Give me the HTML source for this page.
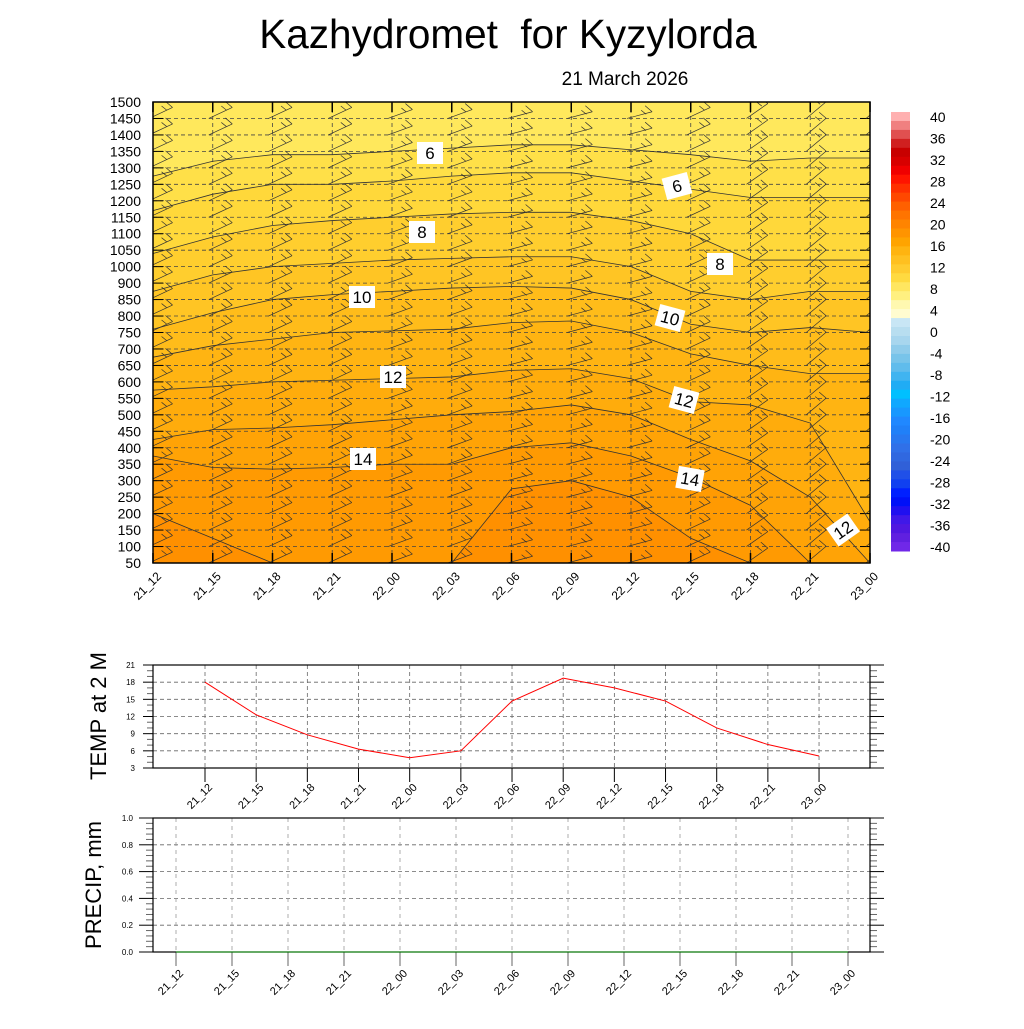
<!DOCTYPE html>
<html><head><meta charset="utf-8"><style>
body{margin:0;background:#fff;}
svg text{font-family:"Liberation Sans",sans-serif;}
</style></head><body>
<svg id="s" width="1024" height="1024" xmlns="http://www.w3.org/2000/svg">
<defs><clipPath id="pc"><rect x="153" y="102" width="717" height="461"/></clipPath></defs>
<text x="508" y="48" font-size="40.5" text-anchor="middle">Kazhydromet&#160;&#160;for Kyzylorda</text>
<text x="625" y="85" font-size="19" text-anchor="middle">21 March 2026</text>
<g id="main"></g><g id="cbar"></g><g id="temp"></g><g id="precip"></g>
</svg>
<script>
const times=["21_12","21_15","21_18","21_21","22_00","22_03","22_06","22_09","22_12","22_15","22_18","22_21","23_00"];
const levels=["1500","1450","1400","1350","1300","1250","1200","1150","1100","1050","1000","900","850","800","750","700","650","600","550","500","450","400","350","300","250","200","150","100","50"];
const contourValues=[6,7,8,9,10,11,12,13,14,15];
const c6=[4.5,3.6,3.2,3.2,3.0,2.8,2.6,2.6,2.9,3.2,3.6,3.4,3.4];
const c7=[6.6,5.6,5.0,5.0,4.8,4.5,4.3,4.3,4.8,5.3,5.8,5.8,5.8];
const c8=[9.2,8.2,7.5,7.2,7.0,6.8,6.7,6.7,7.2,8.0,9.6,9.6,9.6];
const c9=[11.5,10.5,10.0,9.8,9.6,9.5,9.4,9.4,10.0,11.5,12.0,11.5,11.5];
const c10=[13.8,12.8,12.0,11.7,11.5,11.3,11.2,11.3,12.0,13.5,14.0,13.7,14.0];
const c11=[15.5,14.8,14.4,14.0,13.9,13.8,13.4,13.3,14.0,15.3,16.0,16.5,16.5];
const c12=[17.5,17.3,17.0,16.9,16.8,16.7,16.3,16.2,16.8,18.2,18.4,19.5,25.5];
const c13=[20.5,19.9,19.8,19.6,19.3,19.0,18.8,18.4,19.0,20.5,21.8,24,28];
const c14=[21.5,22.2,22.3,22.2,22.0,22.0,21.0,20.7,21.5,22.8,24.5,28,28];
const c15=[25,26.5,28,28,28,28,23.5,23.0,24.0,26.5,28,28,28];
const contours=[c6,c7,c8,c9,c10,c11,c12,c13,c14,c15];
const bandColors=["#ffe85c","#ffe048","#ffd83a","#ffce2e","#ffc524","#ffbc1a","#ffb412","#ffac0c","#ffa306","#ff9a02","#ff9000"];
const windDir=[25,25,25,25,20,20,15,15,15,25,35,40,40];
const temps=[18,12.3,8.8,6.3,4.8,6.0,14.7,18.7,17.0,14.7,10.0,7.1,5.1];
const tempTicks=[3,6,9,12,15,18,21];
const precip=[0,0,0,0,0,0,0,0,0,0,0,0,0];
const precipTicks=["0.0","0.2","0.4","0.6","0.8","1.0"];
const cbarLabels=[40,36,32,28,24,20,16,12,8,4,0,-4,-8,-12,-16,-20,-24,-28,-32,-36,-40];
const cbarColors=["#ffb0b0","#f08080","#e05050","#d02020","#c80000","#d80000","#f00000","#ff1400","#ff3000","#ff4800","#ff6000","#ff7400","#ff8400","#ff9400","#ffa400","#ffb410","#ffc020","#ffcc30","#ffda40","#ffe660","#fff080","#fff8b0","#fffcd0",
"#c8e6f5","#b8def0","#a8d6ee","#90cceb","#78c4ea","#60bcec","#40b4f0","#20acf4","#00c0ff","#10a8ff","#1898ff","#2088ff","#2080f8","#2878f0","#3070e8","#3068e0","#3060d8","#2050e8","#1040f0","#0020ff","#0010f8","#2010f0","#4018e8","#5018e0","#6020e0","#7028e8"];
const NS="http://www.w3.org/2000/svg";
function el(p,t,a){const e=document.createElementNS(NS,t);for(const k in a)e.setAttribute(k,a[k]);p.appendChild(e);return e;}
const X0=153,X1=870,Y0=102,Y1=563;
const xm=i=>X0+i*(X1-X0)/(times.length-1);
const ym=v=>Y0+v*(Y1-Y0)/(levels.length-1);
const main=document.getElementById('main');
let bg=el(main,'rect',{x:X0,y:Y0,width:X1-X0,height:Y1-Y0,fill:bandColors[0]});


contours.forEach((c,k)=>{
  let d='M'+X0+','+Y1+' '+c.map((v,i)=>'L'+xm(i)+','+ym(v)).join(' ')+' L'+X1+','+Y1+'Z';
  let p=el(main,'path',{d:d,fill:bandColors[k+1]});
  
  
});
levels.forEach((l,j)=>{
  let g=el(main,'line',{x1:X0,x2:X1,y1:ym(j),y2:ym(j),stroke:'#444','stroke-width':0.8,'stroke-dasharray':'4,3'});
  
  
  el(main,'line',{x1:X0,x2:X0+10,y1:ym(j),y2:ym(j),stroke:'#000','stroke-width':1});
  el(main,'line',{x1:X1-10,x2:X1,y1:ym(j),y2:ym(j),stroke:'#000','stroke-width':1});
  let t=el(main,'text',{x:X0-12,y:ym(j)+5,'font-size':14,'text-anchor':'end'});t.textContent=l;
  
  
});
times.forEach((tm,i)=>{
  let g=el(main,'line',{x1:xm(i),x2:xm(i),y1:Y0,y2:Y1,stroke:'#444','stroke-width':0.8,'stroke-dasharray':'4,3'});
  
  
  el(main,'line',{x1:xm(i),x2:xm(i),y1:Y0,y2:Y0+10,stroke:'#000','stroke-width':1.5});
  el(main,'line',{x1:xm(i),x2:xm(i),y1:Y1-10,y2:Y1,stroke:'#000','stroke-width':1.5});
  let t=el(main,'text',{x:0,y:0,'font-size':12,'text-anchor':'end',transform:`translate(${xm(i)+9},${Y1+14}) rotate(-45)`});t.textContent=tm;
  
  
});
contours.forEach((c,k)=>{
  let p=el(main,'polyline',{points:c.map((v,i)=>xm(i)+','+ym(v)).join(' '),fill:'none',stroke:'#333','stroke-width':0.8});
  
  
});
const barbs=el(main,'g',{'clip-path':'url(#pc)'});
times.forEach((tm,i)=>{
  levels.forEach((l,j)=>{
    const a=windDir[i]*Math.PI/180,L=26;
    const x=xm(i)-4,y=ym(j);
    const x2=x+L*Math.cos(a),y2=y-L*Math.sin(a);
    let b=el(barbs,'path',{d:`M${x},${y} L${x2},${y2} M${x2},${y2} l-7,-6 M${x2-6},${y2+2.5} l-5,-4`,stroke:'#333','stroke-width':0.7,fill:'none'});
    
    
  });
});
[[6,430,153,0],[6,677,186,-15],[8,422,232,0],[8,720,264,0],[10,362,297,0],[10,670,318,15],[12,393,377,0],[12,684,400,15],[14,363,459,0],[14,690,479,10],[12,843,530,-35]].forEach(q=>{
  let g=el(main,'g',{transform:`translate(${q[1]},${q[2]}) rotate(${q[3]})`});
  
  
  el(g,'rect',{x:-13,y:-11,width:26,height:22,fill:'#fff'});
  let t=el(g,'text',{x:0,y:6,'font-size':17,'text-anchor':'middle'});t.textContent=q[0];
});
el(main,'rect',{x:X0,y:Y0,width:X1-X0,height:Y1-Y0,fill:'none',stroke:'#000','stroke-width':1.5});
const cb=document.getElementById('cbar');
const CB0=112,CB1=551,n=cbarColors.length;
cbarColors.forEach((c,k)=>{
  let r=el(cb,'rect',{x:891,y:CB0+k*(CB1-CB0)/n,width:19,height:(CB1-CB0)/n+0.5,fill:c});
  
  
});
cbarLabels.forEach((v,k)=>{
  let t=el(cb,'text',{x:930,y:122+k*21.5,'font-size':14});t.textContent=v;
  
  
});
const tg=document.getElementById('temp');
const TY0=665,TY1=768,TX0=205,TXS=51.17;
const ty=v=>TY1-(v-3)*(TY1-TY0)/18, tx=i=>TX0+i*TXS;
let yl=el(tg,'text',{x:0,y:0,'font-size':22,'text-anchor':'middle',transform:'translate(106,716) rotate(-90)'});yl.textContent='TEMP at 2 M';


tempTicks.forEach(v=>{
  el(tg,'line',{x1:X0,x2:X1,y1:ty(v),y2:ty(v),stroke:'#666','stroke-width':0.8,'stroke-dasharray':'4,3'});
  el(tg,'line',{x1:X0-10,x2:X0,y1:ty(v),y2:ty(v),stroke:'#000'});
  el(tg,'line',{x1:X1,x2:X1+14,y1:ty(v),y2:ty(v),stroke:'#000'});
  let t=el(tg,'text',{x:X0-18,y:ty(v)+3,'font-size':8,'text-anchor':'end'});t.textContent=v;
  
  
});
for(let v=4;v<21;v++){if(v%3){el(tg,'line',{x1:X0-6,x2:X0,y1:ty(v),y2:ty(v),stroke:'#666'});el(tg,'line',{x1:X1,x2:X1+7,y1:ty(v),y2:ty(v),stroke:'#666'});}}
times.forEach((tm,i)=>{
  el(tg,'line',{x1:tx(i),x2:tx(i),y1:TY0,y2:TY1,stroke:'#666','stroke-width':0.8,'stroke-dasharray':'4,3'});
  el(tg,'line',{x1:tx(i),x2:tx(i),y1:TY1,y2:TY1+14,stroke:'#000'});
  let t=el(tg,'text',{x:0,y:0,'font-size':11,'text-anchor':'end',transform:`translate(${tx(i)+8},${TY1+20}) rotate(-45)`});t.textContent=tm;
  
  
});
el(tg,'rect',{x:X0,y:TY0,width:X1-X0,height:TY1-TY0,fill:'none',stroke:'#000','stroke-width':1.2});
let tl=el(tg,'polyline',{points:temps.map((v,i)=>tx(i)+','+ty(v)).join(' '),fill:'none',stroke:'#f00','stroke-width':1});


const pg=document.getElementById('precip');
const PY0=818,PY1=952,PX0=176,PXS=56;
const py=v=>PY1-v*(PY1-PY0), px=i=>PX0+i*PXS;
let pl=el(pg,'text',{x:0,y:0,'font-size':22,'text-anchor':'middle',transform:'translate(101,885) rotate(-90)'});pl.textContent='PRECIP, mm';


precipTicks.forEach(s=>{
  const v=parseFloat(s);
  el(pg,'line',{x1:X0,x2:X1,y1:py(v),y2:py(v),stroke:'#666','stroke-width':0.8,'stroke-dasharray':'4,3'});
  el(pg,'line',{x1:X0-14,x2:X0,y1:py(v),y2:py(v),stroke:'#000'});
  el(pg,'line',{x1:X1,x2:X1+14,y1:py(v),y2:py(v),stroke:'#000'});
  let t=el(pg,'text',{x:X0-20,y:py(v)+3,'font-size':8,'text-anchor':'end'});t.textContent=s;
  
  
});
for(let k=1;k<25;k++){if(k%5){const v=k/25;el(pg,'line',{x1:X0-7,x2:X0,y1:py(v),y2:py(v),stroke:'#666'});el(pg,'line',{x1:X1,x2:X1+7,y1:py(v),y2:py(v),stroke:'#666'});}}
times.forEach((tm,i)=>{
  el(pg,'line',{x1:px(i),x2:px(i),y1:PY0,y2:PY1,stroke:'#999','stroke-width':0.8,'stroke-dasharray':'4,4'});
  el(pg,'line',{x1:px(i),x2:px(i),y1:PY1,y2:PY1+14,stroke:'#666'});
  let t=el(pg,'text',{x:0,y:0,'font-size':11,'text-anchor':'end',transform:`translate(${px(i)+8},${PY1+22}) rotate(-45)`});t.textContent=tm;
  
  
});
el(pg,'rect',{x:X0,y:PY0,width:X1-X0,height:PY1-PY0,fill:'none',stroke:'#000','stroke-width':1.2});
let pline=el(pg,'polyline',{points:precip.map((v,i)=>px(i)+','+py(v)).join(' '),fill:'none',stroke:'#080','stroke-width':1});


</script>
</body></html>
